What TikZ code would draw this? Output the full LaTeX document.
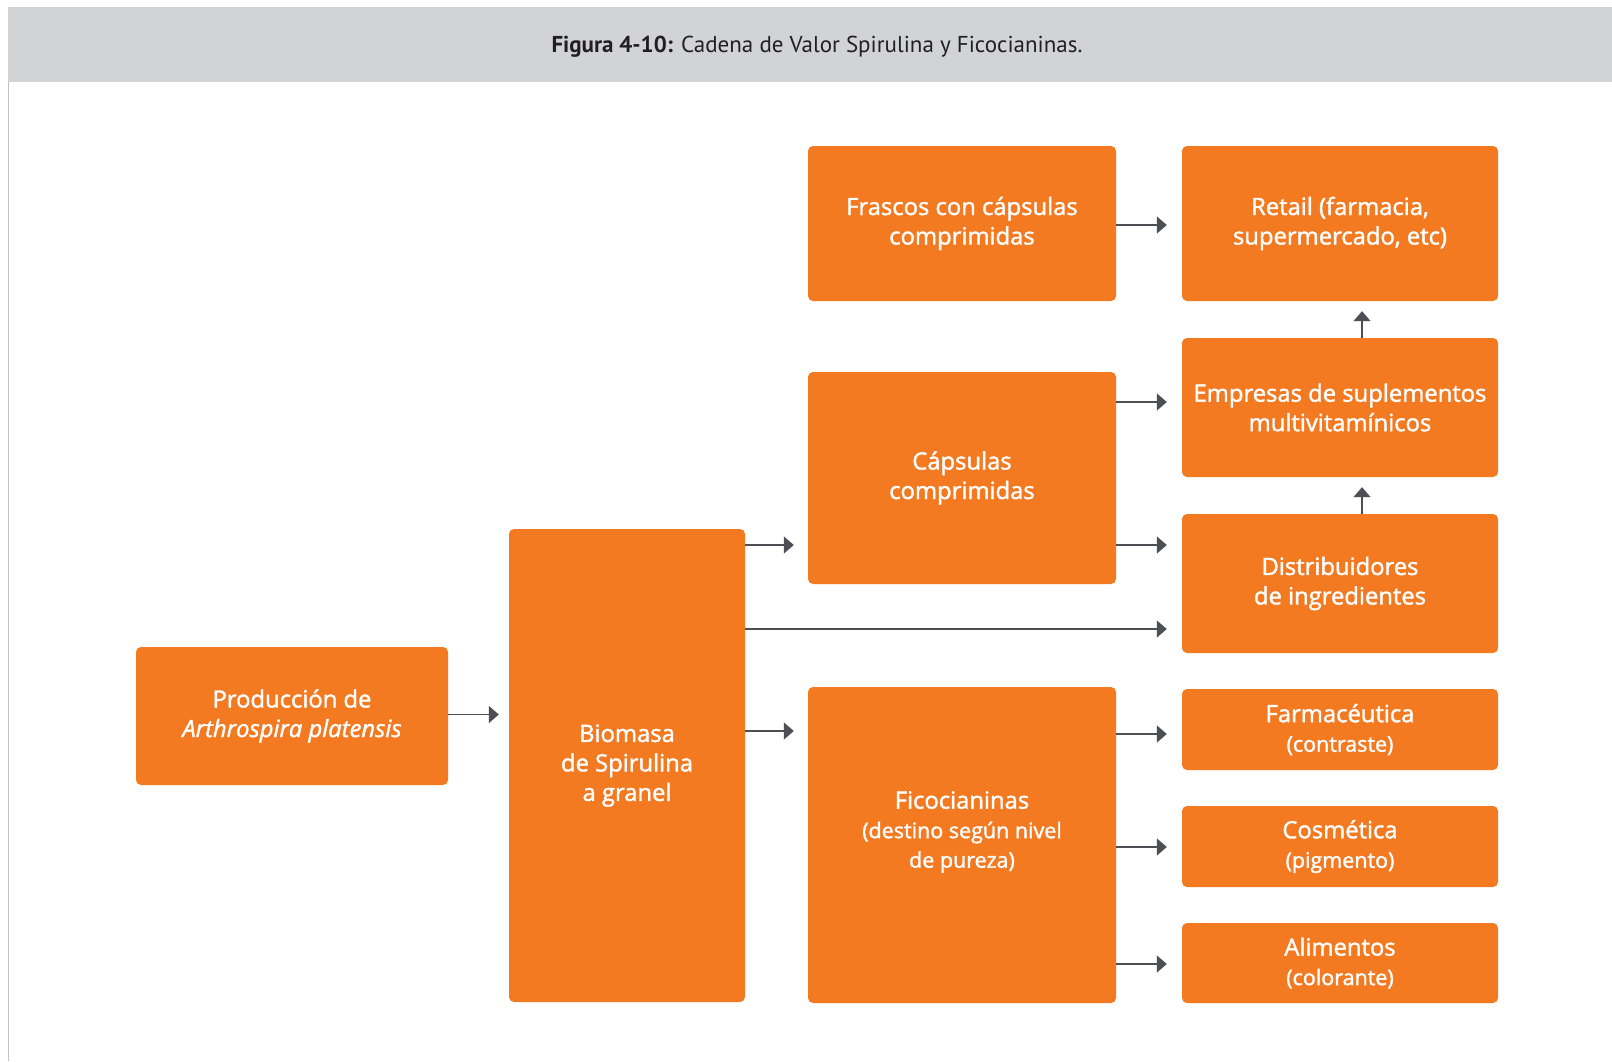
\documentclass[tikz,border=0pt]{standalone}
\usepackage{fontspec}
\setmainfont{Open Sans}
\newfontfamily\boxfont[FakeBold=1.6]{Open Sans}
\newfontfamily\capfont{PT Sans}
\usetikzlibrary{arrows.meta}
\definecolor{orng}{HTML}{F47A22}
\definecolor{hdr}{HTML}{D1D3D4}
\definecolor{arrc}{HTML}{4D4F55}
\definecolor{capc}{HTML}{231F20}
\tikzset{
  box/.style={fill=orng, rounded corners=5pt, text=white, align=center, inner sep=0pt,
    font=\boxfont\fontsize{23.8}{29.5}\selectfont},
  arr/.style={draw=arrc, line width=1.5pt, -{Triangle[length=10pt,width=17pt]}}
}
\newcommand{\smalltxt}[1]{{\fontsize{21.5}{29}\selectfont #1}}
\begin{document}
\begin{tikzpicture}[x=1pt,y=-1pt]
\useasboundingbox (0,0) rectangle (1612,1061);
\fill[white] (0,0) rectangle (1612,1061);
\fill[hdr] (8,7) rectangle (1612,82);
\draw[color=hdr!80!gray, line width=1.5pt] (8.5,82) -- (8.5,1061);
\node[text=capc, font=\capfont\fontsize{23}{27}\selectfont] (cap) at (817,46.5) {\textbf{Figura 4-10:} Cadena de Valor Spirulina y Ficocianinas.};

\node[box, minimum width=312pt, minimum height=138pt] (prod) at (292,716) {Producción de\\\textit{Arthrospira platensis}};
\node[box, minimum width=236pt, minimum height=473pt] (bio) at (627,765.5) {Biomasa\\de Spirulina\\a granel};
\node[box, minimum width=308pt, minimum height=155pt] (frascos) at (962,223.5) {Frascos con cápsulas\\comprimidas};
\node[box, minimum width=308pt, minimum height=212pt] (caps) at (962,478) {Cápsulas\\comprimidas};
\node[box, minimum width=308pt, minimum height=316pt] (fico) at (962,845) {};
\node[box] (ficot) at (962,832) {Ficocianinas\\\smalltxt{(destino según nivel}\\\smalltxt{de pureza)}};
\node[box, minimum width=316pt, minimum height=155pt] (retail) at (1340,223.5) {Retail (farmacia,\\supermercado, etc)};
\node[box, minimum width=316pt, minimum height=139pt] (emp) at (1340,407.5) {Empresas de suplementos\\multivitamínicos};
\node[box, minimum width=316pt, minimum height=139pt] (dist) at (1340,583.5) {Distribuidores\\de ingredientes};
\node[box, minimum width=316pt, minimum height=81pt] (farma) at (1340,729.5) {Farmacéutica\\\smalltxt{(contraste)}};
\node[box, minimum width=316pt, minimum height=81pt] (cosm) at (1340,846.5) {Cosmética\\\smalltxt{(pigmento)}};
\node[box, minimum width=316pt, minimum height=80pt] (alim) at (1340,963) {Alimentos\\\smalltxt{(colorante)}};

\coordinate (y225) at (0,225);
\coordinate (y402) at (0,402);
\coordinate (y545) at (0,545);
\coordinate (y629) at (0,629);
\coordinate (y714) at (0,714.5);
\coordinate (y731) at (0,731);
\coordinate (y734) at (0,734);
\coordinate (y847) at (0,847);
\coordinate (y964) at (0,964);

\draw[arr] (prod.east |- y714) -- ([xshift=-10pt]bio.west |- y714);
\draw[arr] (bio.east |- y545) -- ([xshift=-14pt]caps.west |- y545);
\draw[arr] (bio.east |- y629) -- ([xshift=-15pt]dist.west |- y629);
\draw[arr] (bio.east |- y731) -- ([xshift=-14pt]fico.west |- y731);
\draw[arr] (frascos.east |- y225) -- ([xshift=-15pt]retail.west |- y225);
\draw[arr] (caps.east |- y402) -- ([xshift=-15pt]emp.west |- y402);
\draw[arr] (caps.east |- y545) -- ([xshift=-15pt]dist.west |- y545);
\draw[arr] (fico.east |- y734) -- ([xshift=-15pt]farma.west |- y734);
\draw[arr] (fico.east |- y847) -- ([xshift=-15pt]cosm.west |- y847);
\draw[arr] (fico.east |- y964) -- ([xshift=-15pt]alim.west |- y964);
\coordinate (xa) at (1362,0);
\draw[arr] (emp.north -| xa) -- ([yshift=-10pt]retail.south -| xa);
\draw[arr] (dist.north -| xa) -- ([yshift=-10pt]emp.south -| xa);
\end{tikzpicture}
\end{document}
